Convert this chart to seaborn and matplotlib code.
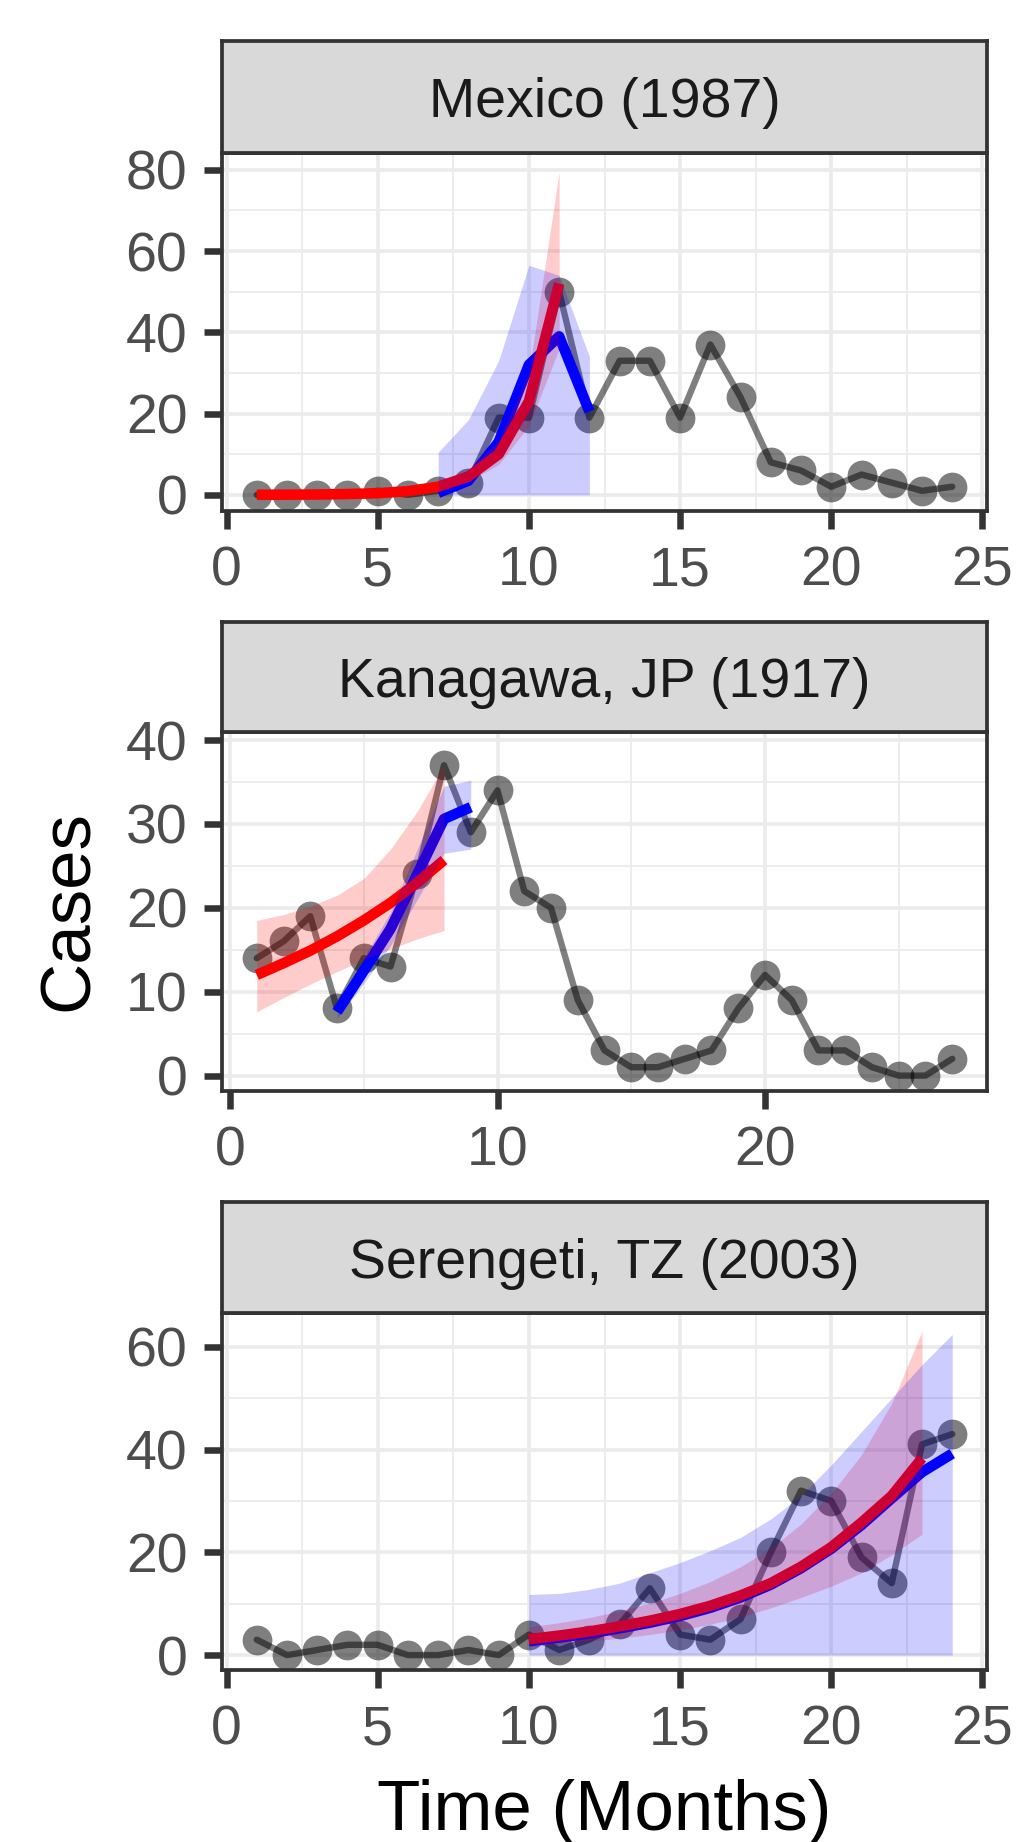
import matplotlib
matplotlib.use("Agg")
import matplotlib.pyplot as plt
from matplotlib.ticker import MultipleLocator
import seaborn as sns
import pandas as pd

##################
# data
##################

mex_month = list(range(1, 25))
mex_cases = [0, 0, 0, 0, 1, 0, 1, 3, 19, 19, 50, 19, 33, 33, 19, 37, 24, 8, 6, 2, 5, 3, 1, 2]
mex_blue_month = [7, 8, 9, 10, 11, 12]
mex_blue = [0.5, 3.5, 13, 32, 39, 20.5]
mex_blue_lo = [0, 0, 0, 0, 0, 0]
mex_blue_hi = [10.5, 18.5, 33, 56.5, 54, 34]
mex_red_month = list(range(1, 12))
mex_red = [0.02, 0.04, 0.08, 0.2, 0.4, 0.9, 2.0, 4.5, 10, 23, 52]
mex_red_lo = [0, 0, 0, 0.1, 0.3, 0.7, 1.5, 3.3, 7.5, 17, 36]
mex_red_hi = [0.1, 0.1, 0.2, 0.3, 0.6, 1.2, 2.7, 6, 13.5, 30, 79.5]

kan_month = list(range(1, 28))
kan_cases = [14, 16, 19, 8, 14, 13, 24, 37, 29, 34, 22, 20, 9, 3, 1, 1, 2, 3, 8, 12, 9, 3, 3, 1, 0, 0, 2]
kan_blue_month = [4, 5, 6, 7, 8, 9]
kan_blue = [7.6, 12.5, 17.5, 24, 30.6, 32]
kan_blue_lo = [6.8, 11, 15.5, 21, 26.5, 27]
kan_blue_hi = [8.5, 14, 19.5, 27, 34.5, 35.2]
kan_red_month = list(range(1, 9))
kan_red = [12, 13.4, 14.9, 16.6, 18.5, 20.6, 23, 25.7]
kan_red_lo = [7.6, 9.3, 10.9, 12.4, 13.8, 15.1, 16.3, 17.3]
kan_red_hi = [18.5, 19.2, 20.2, 21.5, 23.5, 27, 31.5, 37]

ser_month = list(range(1, 25))
ser_cases = [3, 0, 1, 2, 2, 0, 0, 1, 0, 4, 1, 3, 6, 13, 4, 3, 7, 20, 32, 30, 19, 14, 41, 43]
ser_blue_month = list(range(10, 25))
ser_blue = [2.7, 3.4, 4.2, 5.2, 6.3, 7.6, 9.2, 11.2, 13.7, 16.9, 20.7, 25.3, 30.5, 35.6, 39.2]
ser_blue_lo = [0] * 15
ser_blue_hi = [11.8, 12.0, 12.8, 14, 16, 18, 20.3, 22.9, 26.5, 31, 37, 43.5, 50, 56.5, 62.4]
ser_red_month = list(range(10, 24))
ser_red = [3.1, 3.8, 4.6, 5.6, 6.7, 8.0, 9.6, 11.6, 14.0, 17.2, 21, 25.8, 31, 38.3]
ser_red_lo = [1.7, 2.2, 2.7, 3.3, 4.0, 4.9, 6.0, 7.4, 9.2, 11.2, 13.4, 16, 19.5, 23.5]
ser_red_hi = [5.5, 6.3, 7.3, 8.6, 10.1, 12, 14.3, 17.2, 20.8, 25.5, 31.5, 39, 49, 63]

titles = ["Mexico (1987)", "Kanagawa, JP (1917)", "Serengeti, TZ (2003)"]

##################
# layout (pixels)
##################

W, H = 1018, 1842
L, R = 222, 987
# strip top, panel top, panel bottom
rows = [(41, 152.7, 510.7), (621.7, 731.7, 1090.7), (1201.7, 1313.3, 1670)]
xlims = [(-0.15, 25.15), (-0.3, 28.3), (-0.15, 25.15)]
ylims = [(-3.9, 84.2), (-1.8, 41.0), (-2.9, 66.5)]
xmaj = [5, 10, 5]
ymaj = [20, 10, 20]

BORDER = "#333333"

sns.set_theme(style="white")
plt.rcParams["font.family"] = ["Liberation Sans", "DejaVu Sans"]

fig = plt.figure(figsize=(W / 100, H / 100), dpi=100)


def panel(i, month, cases, bm, b, blo, bhi, rm, r, rlo, rhi):
    st, pt, pb = rows[i]
    ax = fig.add_axes([L / W, 1 - pb / H, (R - L) / W, (pb - pt) / H])
    sax = fig.add_axes([L / W, 1 - pt / H, (R - L) / W, (pt - st) / H])

    df = pd.DataFrame({"month": month, "cases": cases})
    sns.lineplot(data=df, x="month", y="cases", color="black", alpha=0.5,
                 lw=4.6, ax=ax, zorder=2)
    sns.scatterplot(data=df, x="month", y="cases", color="black", alpha=0.5,
                    s=460, linewidth=0, ax=ax, zorder=2.5)

    dfb = pd.DataFrame({"month": bm, "fit": b})
    dfr = pd.DataFrame({"month": rm, "fit": r})
    sns.lineplot(data=dfb, x="month", y="fit", color="blue", lw=7.6, ax=ax,
                 zorder=3, solid_capstyle="butt")
    sns.lineplot(data=dfr, x="month", y="fit", color="red", lw=7.6, ax=ax,
                 zorder=4, solid_capstyle="butt")
    ax.fill_between(rm, rlo, rhi, color="red", alpha=0.2, lw=0, zorder=5)
    ax.fill_between(bm, blo, bhi, color="blue", alpha=0.2, lw=0, zorder=6)

    ax.set_xlim(*xlims[i])
    ax.set_ylim(*ylims[i])
    ax.xaxis.set_major_locator(MultipleLocator(xmaj[i]))
    ax.xaxis.set_minor_locator(MultipleLocator(xmaj[i] / 2))
    ax.yaxis.set_major_locator(MultipleLocator(ymaj[i]))
    ax.yaxis.set_minor_locator(MultipleLocator(ymaj[i] / 2))
    ax.set_axisbelow(True)
    ax.grid(which="major", color="#EBEBEB", lw=2.6, zorder=0)
    ax.grid(which="minor", color="#EBEBEB", lw=1.3, zorder=0)
    ax.tick_params(which="major", direction="out", length=13, width=4.7,
                   color=BORDER, labelsize=40, labelcolor="#4D4D4D", pad=12,
                   left=True, bottom=True)
    ax.tick_params(which="minor", length=0)
    ax.set_xlabel("")
    ax.set_ylabel("")
    for sp in ax.spines.values():
        sp.set_color(BORDER)
        sp.set_linewidth(2.7)
        sp.set_zorder(10)

    sax.set_facecolor("#D9D9D9")
    sax.set_xticks([])
    sax.set_yticks([])
    for sp in sax.spines.values():
        sp.set_color(BORDER)
        sp.set_linewidth(2.7)
    # baseline placed so the capitals sit centred in the strip
    base = (pt - (st + pt) / 2 - 20) / (pt - st)
    sax.text(0.5, base, titles[i], transform=sax.transAxes, ha="center",
             va="baseline", fontsize=40, color="#1A1A1A")
    return ax


panel(0, mex_month, mex_cases, mex_blue_month, mex_blue, mex_blue_lo, mex_blue_hi,
      mex_red_month, mex_red, mex_red_lo, mex_red_hi)
panel(1, kan_month, kan_cases, kan_blue_month, kan_blue, kan_blue_lo, kan_blue_hi,
      kan_red_month, kan_red, kan_red_lo, kan_red_hi)
panel(2, ser_month, ser_cases, ser_blue_month, ser_blue, ser_blue_lo, ser_blue_hi,
      ser_red_month, ser_red, ser_red_lo, ser_red_hi)

fig.text((L + R) / 2 / W, 1 - 1830 / H, "Time (Months)", ha="center",
         va="baseline", fontsize=51, color="black")
fig.text(88 / W, 1 - 911 / H, "Cases", ha="center", va="baseline",
         rotation=90, rotation_mode="anchor", fontsize=51, color="black")

fig.savefig("out.png", dpi=100)
